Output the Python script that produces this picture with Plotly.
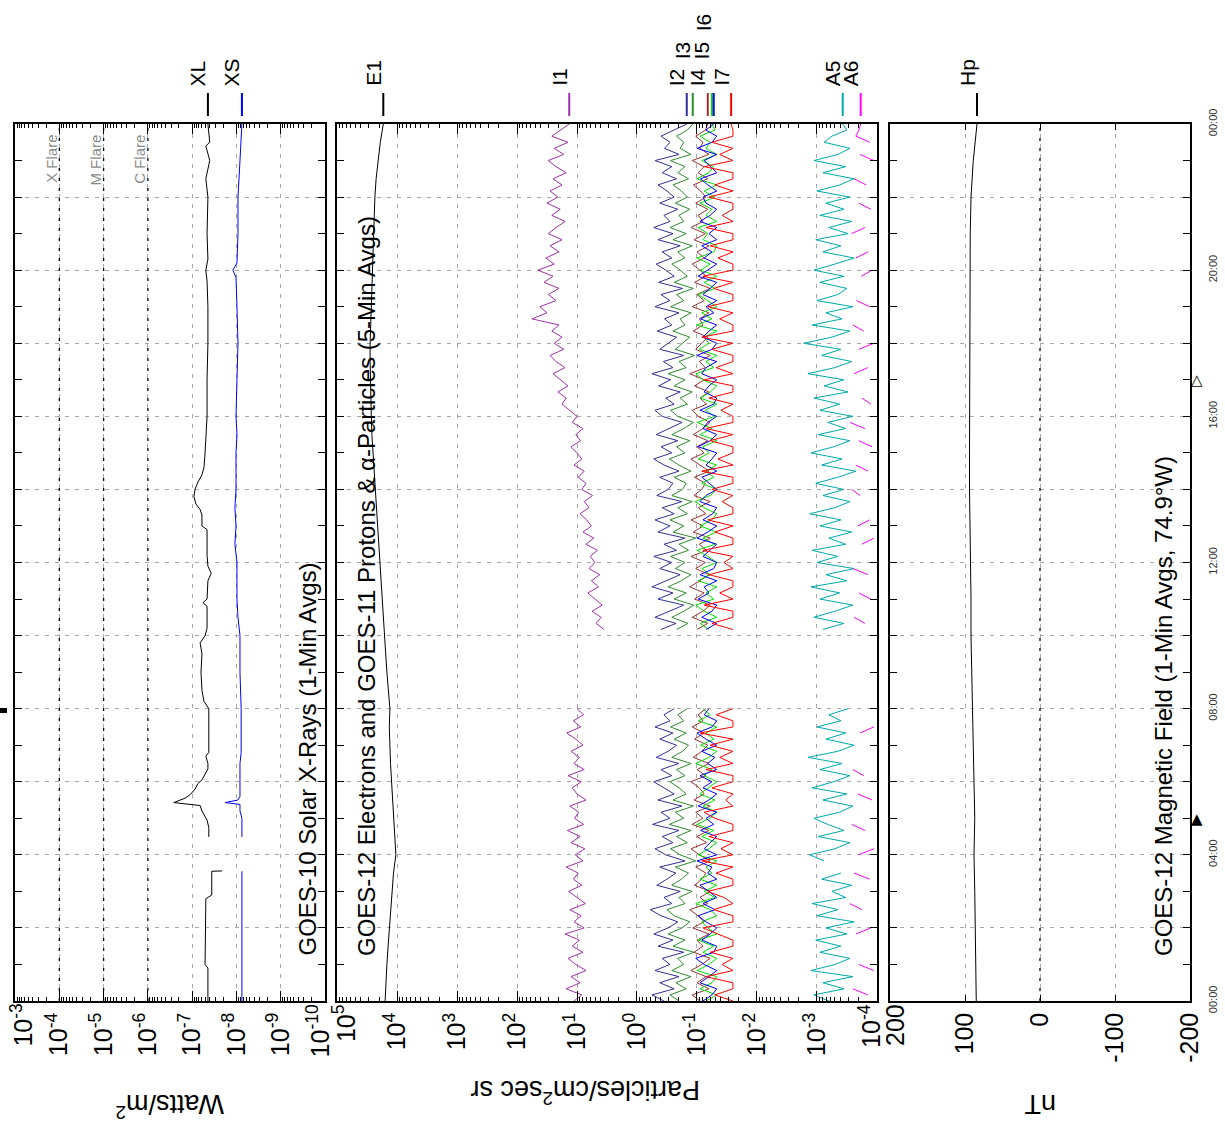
import numpy as np
import plotly.graph_objects as go

W, H = 1225, 1130
FONT = "Liberation Sans, Arial, Helvetica, sans-serif"

# ---------------- GOES-10 solar X-rays (W/m^2), hours UT ----------------
xl_hours = [0.0, 0.9, 1.0, 2.8, 2.9, 3.55, 3.56, 4.0, 4.49, 4.75, 4.95, 5.2, 5.35,
            5.43, 5.55, 5.65, 5.8, 5.95, 6.05, 6.2, 6.35, 6.5, 6.7, 6.8, 8.0, 8.2,
            8.5, 9.0, 9.5, 9.8, 10.0, 10.2, 10.8, 10.9, 11.0, 11.5, 11.7, 11.9, 12.2,
            12.9, 13.0, 13.3, 13.45, 13.6, 13.8, 14.0, 14.2, 14.4, 14.6, 15.0, 15.5,
            16.0, 17.0, 18.0, 19.0, 19.7, 20.0, 20.3, 21.0, 22.0, 22.5, 23.0, 23.4,
            23.5, 24.0]
xl_flux = [4.4e-8, 4.4e-8, 5.1e-8, 4.9e-8, 3.6e-8, 3.6e-8, 2.1e-8, None, 4.2e-8, 4.2e-8,
           4.6e-8, 6.0e-8, 6.6e-8, 2.6e-7, 1.45e-7, 1.1e-7, 8.6e-8, 7.4e-8, 6.0e-8, 5.1e-8,
           4.4e-8, 4.4e-8, 4.9e-8, 4.2e-8, 4.2e-8, 5.4e-8, 6.0e-8, 6.3e-8, 6.0e-8, 6.6e-8,
           5.1e-8, 4.6e-8, 4.6e-8, 5.7e-8, 4.6e-8, 4.4e-8, 3.7e-8, 4.4e-8, 4.6e-8, 4.6e-8,
           6.0e-8, 6.0e-8, 6.6e-8, 8.2e-8, 9.1e-8, 8.6e-8, 7.4e-8, 6.0e-8, 5.4e-8, 5.1e-8,
           4.9e-8, 4.6e-8, 4.6e-8, 4.4e-8, 4.4e-8, 4.6e-8, 4.9e-8, 4.4e-8, 4.6e-8, 4.4e-8,
           4.9e-8, 4.0e-8, 4.9e-8, 4.0e-8, 4.4e-8]
xs_hours = [0.0, 1.0, 2.0, 3.0, 3.55, 4.0, 4.49, 5.0, 5.2, 5.38, 5.43, 5.5, 5.6, 6.5,
            6.8, 8.0, 9.0, 10.0, 10.5, 11.0, 12.0, 12.5, 13.0, 13.5, 14.0, 15.0, 15.5,
            16.0, 17.0, 18.0, 19.0, 19.8, 20.0, 20.2, 21.0, 22.0, 23.0, 24.0]
xs_flux = [7.5e-9, 7.5e-9, 7.3e-9, 7.5e-9, 7.5e-9, None, 7.5e-9, 7.5e-9, 8.3e-9, 8.3e-9,
           1.8e-8, 9.2e-9, 8.3e-9, 8.3e-9, 7.8e-9, 7.8e-9, 8.3e-9, 8.3e-9, 9.2e-9, 9.7e-9,
           9.7e-9, 1.08e-8, 1.02e-8, 1.08e-8, 1.02e-8, 1.02e-8, 9.7e-9, 1.02e-8, 9.7e-9,
           9.2e-9, 9.7e-9, 1.02e-8, 1.2e-8, 9.7e-9, 9.2e-9, 9.2e-9, 8.3e-9, 7.5e-9]
xray_decades = [-3, -4, -5, -6, -7, -8, -9, -10]
flare_classes = ["X Flare", "M Flare", "C Flare"]
flare_levels = [-4, -5, -6]

# ---------------- GOES-12 electrons, 30-min samples (log10 flux) ----------------
e1_log10 = [4.20, 4.19, 4.17, 4.15, 4.13, 4.11, 4.09, 4.06, 4.02, 4.04, 4.06, 4.08,
            4.10, 4.11, 4.12, 4.13, 4.12, 4.15, 4.17, 4.19, 4.21, 4.23, 4.25, 4.27,
            4.29, 4.31, 4.33, 4.35, 4.37, 4.39, 4.40, 4.42, 4.43, 4.44, 4.45, 4.45,
            4.45, 4.44, 4.44, 4.43, 4.42, 4.41, 4.40, 4.38, 4.37, 4.35, 4.32, 4.28, 4.23]

# ---------------- GOES-11 protons / alphas, 10-min samples (log10 flux) ----------------
# segment a: 00:00-08:00, segment b: 10:10-24:00 (no data in between)
i1_a = [1.05, 0.92, 1.18, 0.95, 1.10, 0.85, 1.02, 1.15, 0.90, 1.08, 0.96, 1.20,
        0.88, 1.05, 0.93, 1.12, 0.86, 1.00, 1.14, 0.92, 1.06, 0.98, 1.18, 0.90,
        1.03, 0.87, 1.10, 0.95, 1.16, 0.89, 1.04, 0.97, 1.12, 0.85, 1.00, 1.08,
        0.93, 1.15, 0.88, 1.05, 0.96, 1.10, 0.90, 1.02, 1.17, 0.94, 1.06, 0.89,
        1.00]
i1_b = [0.55, 0.68, 0.60, 0.75, 0.58, 0.70, 0.82, 0.64, 0.76, 0.62, 0.80, 0.70,
        0.78, 0.66, 0.85, 0.72, 0.90, 0.76, 0.84, 0.95, 0.80, 0.88, 0.74, 0.92,
        0.85, 0.98, 0.88, 1.05, 0.92, 1.00, 1.10, 0.94, 1.02, 0.90, 1.08, 1.00,
        1.12, 1.25, 1.18, 1.32, 1.15, 1.28, 1.40, 1.20, 1.35, 1.45, 1.22, 1.38,
        1.25, 1.42, 1.30, 1.75, 1.50, 1.62, 1.35, 1.48, 1.30, 1.55, 1.40, 1.65,
        1.38, 1.52, 1.30, 1.45, 1.25, 1.48, 1.35, 1.20, 1.42, 1.28, 1.50, 1.32,
        1.45, 1.25, 1.40, 1.18, 1.35, 1.48, 1.22, 1.38, 1.15, 1.42, 1.28, 1.13]
i2_a = [-0.45, -0.25, -0.62, -0.38, -0.70, -0.30, -0.55, -0.42, -0.78, -0.35, -0.60, -0.28,
        -0.52, -0.68, -0.40, -0.22, -0.58, -0.45, -0.72, -0.33, -0.50, -0.65, -0.38, -0.80,
        -0.48, -0.30, -0.60, -0.42, -0.70, -0.26, -0.55, -0.40, -0.75, -0.35, -0.62, -0.45,
        -0.28, -0.58, -0.40, -0.70, -0.32, -0.52, -0.66, -0.38, -0.60, -0.30, -0.55, -0.45,
        -0.62]
i2_b = [-0.40, -0.65, -0.30, -0.55, -0.78, -0.35, -0.60, -0.25, -0.50, -0.72, -0.38, -0.58,
        -0.28, -0.66, -0.45, -0.80, -0.35, -0.55, -0.30, -0.62, -0.42, -0.75, -0.33, -0.52,
        -0.60, -0.38, -0.70, -0.45, -0.28, -0.58, -0.40, -0.68, -0.32, -0.55, -0.75, -0.42,
        -0.30, -0.62, -0.48, -0.72, -0.36, -0.56, -0.25, -0.60, -0.44, -0.78, -0.38, -0.52,
        -0.66, -0.34, -0.58, -0.46, -0.70, -0.30, -0.55, -0.40, -0.76, -0.36, -0.62, -0.48,
        -0.32, -0.58, -0.42, -0.72, -0.35, -0.60, -0.28, -0.55, -0.45, -0.68, -0.38, -0.62,
        -0.50, -0.35, -0.66, -0.42, -0.58, -0.30, -0.70, -0.46, -0.55, -0.40, -0.62, -0.83]
i3_a = [-0.70, -0.55, -0.82, -0.65, -0.90, -0.58, -0.78, -0.68, -0.95, -0.60, -0.80, -0.52,
        -0.75, -0.88, -0.62, -0.50, -0.80, -0.70, -0.92, -0.58, -0.74, -0.86, -0.64, -0.98,
        -0.72, -0.56, -0.84, -0.66, -0.90, -0.54, -0.78, -0.64, -0.94, -0.60, -0.82, -0.70,
        -0.55, -0.80, -0.66, -0.90, -0.58, -0.76, -0.86, -0.62, -0.82, -0.56, -0.78, -0.68,
        -0.84]
i3_b = [-0.66, -0.85, -0.58, -0.78, -0.95, -0.62, -0.82, -0.52, -0.74, -0.90, -0.64, -0.80,
        -0.56, -0.86, -0.70, -0.98, -0.60, -0.78, -0.55, -0.84, -0.68, -0.92, -0.58, -0.76,
        -0.82, -0.62, -0.90, -0.70, -0.54, -0.80, -0.66, -0.88, -0.58, -0.78, -0.94, -0.68,
        -0.56, -0.84, -0.72, -0.92, -0.62, -0.80, -0.52, -0.82, -0.70, -0.96, -0.64, -0.76,
        -0.88, -0.60, -0.80, -0.72, -0.90, -0.56, -0.78, -0.66, -0.94, -0.62, -0.84, -0.72,
        -0.58, -0.80, -0.68, -0.92, -0.60, -0.82, -0.55, -0.78, -0.70, -0.88, -0.64, -0.84,
        -0.74, -0.60, -0.86, -0.68, -0.80, -0.56, -0.90, -0.72, -0.78, -0.66, -0.84, -0.93]
i4_a = [-1.05, -0.92, -1.20, -1.00, -1.15, -0.90, -1.08, -1.22, -0.95, -1.10, -1.00, -1.20,
        -0.93, -1.12, -1.02, -0.88, -1.18, -1.05, -1.22, -0.96, -1.08, -1.15, -0.98, -1.22,
        -1.04, -0.90, -1.16, -1.00, -1.20, -0.92, -1.10, -0.98, -1.22, -0.95, -1.12, -1.04,
        -0.90, -1.15, -1.00, -1.20, -0.94, -1.08, -1.18, -0.96, -1.12, -0.92, -1.10, -1.02,
        -1.15]
i4_b = [-1.00, -1.18, -0.92, -1.10, -1.22, -0.96, -1.12, -0.88, -1.05, -1.20, -0.98, -1.14,
        -0.90, -1.16, -1.04, -1.22, -0.94, -1.10, -0.90, -1.15, -1.02, -1.22, -0.95, -1.08,
        -1.14, -0.96, -1.20, -1.04, -0.90, -1.12, -1.00, -1.18, -0.94, -1.10, -1.22, -1.02,
        -0.92, -1.16, -1.05, -1.20, -0.96, -1.12, -0.88, -1.14, -1.04, -1.22, -0.98, -1.08,
        -1.18, -0.94, -1.10, -1.04, -1.20, -0.92, -1.12, -1.00, -1.22, -0.96, -1.15, -1.05,
        -0.92, -1.12, -1.00, -1.20, -0.95, -1.14, -0.90, -1.10, -1.02, -1.18, -0.98, -1.15,
        -1.06, -0.94, -1.18, -1.02, -1.12, -0.92, -1.20, -1.05, -1.10, -0.98, -1.14, -1.18]
i5_a = [-1.15, -1.33, -1.05, -1.25, -1.33, -1.00, -1.20, -1.33, -1.10, -1.28, -1.02, -1.33,
        -1.18, -1.08, -1.33, -1.22, -0.98, -1.30, -1.12, -1.33, -1.05, -1.25, -1.15, -1.33,
        -1.02, -1.20, -1.33, -1.08, -1.28, -1.00, -1.22, -1.33, -1.10, -1.30, -1.05, -1.18,
        -1.33, -1.12, -1.25, -0.98, -1.20, -1.33, -1.06, -1.28, -1.15, -1.33, -1.02, -1.22,
        -1.10]
i5_b = [-1.20, -1.05, -1.33, -1.12, -0.98, -1.28, -1.15, -1.33, -1.02, -1.22, -1.08, -1.33,
        -1.18, -1.00, -1.30, -1.10, -1.33, -1.05, -1.25, -1.33, -1.12, -0.97, -1.22, -1.33,
        -1.08, -1.28, -1.15, -1.33, -1.02, -1.20, -1.10, -1.33, -1.05, -1.25, -1.00, -1.30,
        -1.14, -1.33, -1.06, -1.22, -1.33, -1.10, -0.98, -1.28, -1.15, -1.33, -1.04, -1.20,
        -1.12, -1.33, -1.00, -1.25, -1.08, -1.33, -1.18, -1.02, -1.30, -1.12, -1.33, -1.06,
        -1.22, -1.00, -1.28, -1.33, -1.10, -1.18, -1.02, -1.33, -1.15, -1.25, -1.05, -1.30,
        -1.12, -1.33, -1.00, -1.20, -1.28, -1.08, -1.33, -1.15, -1.22, -1.05, -1.30, -1.25]
i6_a = [-1.10, -1.25, -1.33, -1.05, -1.20, -1.33, -1.12, -0.98, -1.28, -1.33, -1.08, -1.22,
        -1.33, -1.15, -1.02, -1.30, -1.10, -1.33, -1.20, -1.05, -1.33, -1.18, -1.25, -1.00,
        -1.33, -1.12, -1.22, -1.33, -1.06, -1.28, -1.15, -1.33, -1.02, -1.20, -1.33, -1.10,
        -1.25, -1.05, -1.33, -1.18, -1.30, -1.08, -1.33, -1.15, -1.00, -1.25, -1.33, -1.12,
        -1.20]
i6_b = [-1.15, -1.33, -1.08, -1.25, -1.33, -1.02, -1.20, -1.12, -1.33, -1.05, -1.28, -1.33,
        -1.10, -1.22, -1.33, -1.00, -1.18, -1.33, -1.10, -1.26, -1.33, -1.05, -1.15, -1.33,
        -1.20, -1.08, -1.33, -1.15, -1.25, -1.33, -1.02, -1.22, -1.33, -1.10, -1.18, -1.33,
        -1.05, -1.28, -1.33, -1.12, -1.20, -1.33, -1.08, -1.15, -1.33, -1.00, -1.25, -1.33,
        -1.10, -1.20, -1.33, -1.06, -1.28, -1.15, -1.33, -1.10, -1.22, -1.33, -1.02, -1.18,
        -1.33, -1.12, -1.25, -1.08, -1.33, -1.20, -1.33, -1.05, -1.22, -1.33, -1.15, -1.10,
        -1.33, -1.18, -1.06, -1.33, -1.22, -1.12, -1.33, -1.00, -1.25, -1.33, -1.15, -1.28]
i7_a = [-1.60, -1.30, -1.60, -1.60, -1.15, -1.60, -1.42, -1.60, -1.22, -1.60, -1.60, -1.35,
        -1.10, -1.60, -1.60, -1.28, -1.60, -1.45, -1.18, -1.60, -1.60, -1.32, -1.60, -1.08,
        -1.60, -1.40, -1.60, -1.20, -1.60, -1.60, -1.30, -1.12, -1.60, -1.48, -1.60, -1.25,
        -1.60, -1.60, -1.15, -1.60, -1.38, -1.60, -1.22, -1.60, -1.05, -1.60, -1.60, -1.32,
        -1.60]
i7_b = [-1.60, -1.25, -1.60, -1.60, -1.12, -1.60, -1.38, -1.60, -1.60, -1.20, -1.60, -1.45,
        -1.60, -1.10, -1.60, -1.60, -1.30, -1.60, -1.18, -1.60, -1.60, -1.42, -1.60, -1.25,
        -1.60, -1.60, -1.08, -1.60, -1.35, -1.60, -1.60, -1.22, -1.60, -1.15, -1.60, -1.60,
        -1.40, -1.60, -1.20, -1.60, -1.60, -1.12, -1.60, -1.32, -1.60, -1.60, -1.25, -1.60,
        -1.08, -1.60, -1.60, -1.38, -1.60, -1.18, -1.60, -1.60, -1.28, -1.60, -1.10, -1.60,
        -1.60, -1.35, -1.60, -1.22, -1.60, -1.60, -1.15, -1.60, -1.42, -1.60, -1.60, -1.20,
        -1.60, -1.30, -1.60, -1.60, -1.12, -1.60, -1.38, -1.60, -1.25, -1.60, -1.60, -1.57]
a5_a = [-3.20, -2.95, -3.45, -3.10, -3.60, -2.90, -3.30, -3.55, -3.05, -3.40, -2.98, -3.50,
        -3.15, -3.62, -3.00, -3.35, -2.92, -3.48, -3.25, -3.58, -3.08, -3.40, None, -3.12,
        -2.88, -3.30, -3.55, -3.02, -3.45, -3.18, -2.95, -3.38, -3.60, -3.10, -3.50, -2.92,
        -3.28, -3.55, -3.05, -3.42, -2.85, -3.35, -3.62, -3.15, -3.48, -3.00, -3.40, -3.20,
        -3.52]
a5_b = [-3.10, -3.45, -2.95, -3.30, -3.60, -3.05, -3.38, -2.90, -3.50, -3.15, -3.62, -3.00,
        -3.35, -2.92, -3.48, -3.20, -3.58, -3.05, -3.40, -2.88, -3.30, -3.55, -3.10, -3.45,
        -2.98, -3.35, -3.65, -3.08, -3.42, -2.90, -3.28, -3.55, -3.02, -3.48, -3.18, -3.60,
        -3.05, -3.38, -2.95, -3.52, -3.12, -3.45, -2.85, -3.30, -3.58, -3.08, -3.40, -2.78,
        -3.25, -3.55, -2.92, -3.42, -3.15, -3.60, -3.00, -3.35, -3.50, -3.05, -3.45, -2.95,
        -3.30, -3.62, -3.10, -3.40, -2.98, -3.52, -3.20, -3.58, -3.05, -3.45, -3.15, -3.55,
        -3.00, -3.38, -3.62, -3.10, -3.48, -2.95, -3.35, -3.55, -3.12, -3.25, -3.50, -3.43]
a6_a = [None, -3.85, -3.60, None, None, -3.95, -3.70, None, -3.80, None, None, -3.65,
        -3.90, None, None, -3.75, -3.55, None, None, None, -3.88, -3.62, None, None,
        -3.70, -3.95, None, None, -3.80, -3.58, None, None, None, -3.92, -3.68, None,
        None, -3.78, -3.60, None, None, -3.85, None, None, -3.72, -3.95, None, None,
        -3.65]
a6_b = [None, -3.80, -3.62, None, None, -3.90, -3.70, None, None, -3.85, -3.60, None,
        None, None, -3.75, -3.95, None, -3.68, -3.88, None, None, None, -3.72, -3.58,
        None, None, -3.85, -3.65, None, None, -3.92, -3.70, None, -3.80, -3.55, None,
        None, -3.90, -3.75, None, None, None, -3.62, -3.85, None, None, -3.70, -3.95,
        None, -3.78, -3.60, None, None, -3.88, -3.66, None, None, None, -3.74, -3.92,
        None, -3.65, -3.85, None, None, -3.58, -3.80, None, None, -3.90, -3.70, None,
        None, -3.82, -3.62, None, None, -3.95, -3.72, None, -3.88, -3.65, -3.70, -3.73]
particle_decades = [5, 4, 3, 2, 1, 0, -1, -2, -3, -4]

# ---------------- GOES-12 magnetometer Hp (nT), hourly ----------------
hp_nt = [85, 86, 87, 87, 88, 87, 88, 89, 90, 91, 92, 92, 93, 93, 94, 94, 94, 93, 93,
         94, 94, 93, 92, 89, 84]
mag_ticks = [200, 100, 0, -100, -200]

# satellite local midnight / local noon (UT hours) at 74.9 W
local_midnight_ut = 4.99
local_noon_ut = 16.99

time_ticks = list(range(0, 25, 2))
time_labels = ["00:00", "", "04:00", "", "08:00", "", "12:00", "", "16:00", "", "20:00", "", "00:00"]

# ---------------- time grids ----------------
seg_a_hours = np.linspace(0.0, 8.0, 49)
seg_b_hours = np.linspace(10.0 + 1.0 / 6.0, 24.0, 84)
e1_hours = np.linspace(0.0, 24.0, 49)
hp_hours = np.linspace(0.0, 24.0, 25)

for seg in (i1_a, i2_a, i3_a, i4_a, i5_a, i6_a, i7_a, a5_a, a6_a):
    assert len(seg) == len(seg_a_hours)
for seg in (i1_b, i2_b, i3_b, i4_b, i5_b, i6_b, i7_b, a5_b, a6_b):
    assert len(seg) == len(seg_b_hours)
assert len(xl_hours) == len(xl_flux) and len(xs_hours) == len(xs_flux)
assert len(e1_log10) == len(e1_hours) and len(hp_nt) == len(hp_hours)


def from_log(vals):
    return [None if v is None else 10.0 ** v for v in vals]


def joined(a, b):
    """Two sampled segments separated by a data gap."""
    x = from_log(a) + [None] + from_log(b)
    y = list(seg_a_hours) + [9.0] + list(seg_b_hours)
    return x, y


# panel geometry (pixels)
def pxx(px):
    return px / W


def pxy(py):
    return 1.0 - py / H


PANEL_TOP, PANEL_BOT = 124, 1001
XR_DOM = [pxx(15), pxx(325)]
PT_DOM = [pxx(337), pxx(877)]
MG_DOM = [pxx(890), pxx(1190)]
Y_DOM = [pxy(PANEL_BOT), pxy(PANEL_TOP)]

fig = go.Figure()


def line(x, y, color, xa, ya, width=1.0):
    fig.add_trace(go.Scatter(x=x, y=y, mode="lines", xaxis=xa, yaxis=ya,
                             line=dict(color=color, width=width), connectgaps=False,
                             showlegend=False, hoverinfo="skip"))


# X-rays
line(xl_flux, xl_hours, "black", "x", "y")
line(xs_flux, xs_hours, "#0000ff", "x", "y")

# particles
line(from_log(e1_log10), list(e1_hours), "black", "x2", "y2")
channels = [
    ("I1", i1_a, i1_b, "#a030a8", 1),
    ("I2", i2_a, i2_b, "#30309a", 1),
    ("I3", i3_a, i3_b, "#2e8b2e", 2),
    ("I4", i4_a, i4_b, "#9a3030", 1),
    ("I5", i5_a, i5_b, "#00e000", 2),
    ("I6", i6_a, i6_b, "#0000ff", 3),
    ("I7", i7_a, i7_b, "#ff0000", 1),
    ("A5", a5_a, a5_b, "#00aaaa", 1),
    ("A6", a6_a, a6_b, "#ff00ff", 1),
]
for name, a, b, color, _row in channels:
    x, y = joined(a, b)
    line(x, y, color, "x2", "y2")

# magnetic field
line(hp_nt, list(hp_hours), "black", "x3", "y3")

# ---------------- axes ----------------
AX_LINE = dict(showline=True, linecolor="black", linewidth=1.5, mirror="ticks",
               zeroline=False, automargin=False, fixedrange=True)
GRID = dict(showgrid=True, gridcolor="#a8a8a8", gridwidth=1, griddash="4px,6px")
TICK_FONT = dict(family=FONT, size=25, color="black")

ytime = dict(range=[0, 24], domain=Y_DOM, tickmode="array", tickvals=time_ticks,
             ticktext=time_labels, ticks="inside", ticklen=7, tickwidth=1, tickcolor="black",
             minor=dict(tickmode="linear", tick0=0, dtick=1, ticks="inside", ticklen=7,
                        tickcolor="black", showgrid=False),
             **AX_LINE, **GRID)

EDGE = 0.002  # keeps the end decades inside the range


def decade_label(p):
    return "10<sup>%d</sup>" % p


def log_axis(decades, domain, anchor):
    minor_vals = [m * 10.0 ** p for p in decades for m in range(2, 10)]
    # the two end labels are drawn separately, nudged inward
    text = [decade_label(p) if 0 < i < len(decades) - 1 else ""
            for i, p in enumerate(decades)]
    return dict(type="log", range=[decades[0] + EDGE, decades[-1] - EDGE], domain=domain,
                anchor=anchor, tickmode="array", tickvals=[10.0 ** p for p in decades],
                ticktext=text, tickangle=-90, ticks="inside", ticklen=10, tickwidth=1,
                tickcolor="black", tickfont=TICK_FONT, ticklabeloverflow="allow",
                minor=dict(tickmode="array", tickvals=minor_vals, ticks="inside", ticklen=4,
                           tickcolor="black", showgrid=False),
                **AX_LINE, **GRID)


fig.update_layout(
    width=W, height=H, autosize=False,
    margin=dict(l=0, r=0, t=0, b=0, pad=0),
    paper_bgcolor="white", plot_bgcolor="white",
    font=dict(family=FONT, color="black"),
    xaxis=log_axis(xray_decades, XR_DOM, "y"),
    xaxis2=log_axis(particle_decades, PT_DOM, "y2"),
    xaxis3=dict(range=[200, -200], domain=MG_DOM, anchor="y3", tickmode="array",
                tickvals=mag_ticks, ticktext=[""] + [str(v) for v in mag_ticks[1:]],
                tickangle=-90, ticks="inside", ticklen=6, tickwidth=1, tickcolor="black",
                ticklabeloverflow="allow", tickfont=TICK_FONT, **AX_LINE, **GRID),
    yaxis=dict(anchor="x", showticklabels=False, **ytime),
    yaxis2=dict(anchor="x2", showticklabels=False, **ytime),
    yaxis3=dict(anchor="x3", side="right", showticklabels=True, tickangle=-90,
                ticklabelstandoff=12, ticklabeloverflow="allow",
                tickfont=dict(family=FONT, size=11, color="#333333"), **ytime),
)

shapes = []
annotations = []

# end-of-axis tick labels, nudged inward so neighbouring panels' labels do not collide
for xref, val, text, shift in [("x", xray_decades[0], decade_label(xray_decades[0]), 6),
                               ("x", xray_decades[-1], decade_label(xray_decades[-1]), -7),
                               ("x2", particle_decades[0], decade_label(particle_decades[0]), 7),
                               ("x2", particle_decades[-1], decade_label(particle_decades[-1]), -7),
                               ("x3", mag_ticks[0], str(mag_ticks[0]), 5)]:
    annotations.append(dict(text=text, xref=xref, yref="paper", x=val, y=pxy(1002),
                            xanchor="center", yanchor="top", textangle=-90, xshift=shift,
                            showarrow=False, font=TICK_FONT))

# flare class thresholds (shape coordinates are data values on log axes)
for lvl, label in zip(flare_levels, flare_classes):
    shapes.append(dict(type="line", xref="x", yref="y", x0=10.0 ** lvl, x1=10.0 ** lvl,
                       y0=0, y1=24, line=dict(color="black", width=1.3, dash="3px,7px"),
                       layer="above"))
    annotations.append(dict(text=label, xref="x", yref="paper", x=lvl, y=pxy(133),
                            xanchor="right", yanchor="top", textangle=-90, xshift=2,
                            showarrow=False, font=dict(family=FONT, size=15, color="#8c8c8c")))
# zero field line
shapes.append(dict(type="line", xref="x3", yref="y3", x0=0, x1=0, y0=0, y1=24,
                   line=dict(color="black", width=1.3, dash="3px,7px"), layer="above"))

# series labels above each panel, placed at the final value of each series
LEG_Y0, LEG_Y1 = pxy(116), pxy(93)
ROW_BOTTOM = {1: pxy(88), 2: pxy(61), 3: pxy(33)}


def series_label(name, xref, value, color, row=1, log=False):
    ann_x = np.log10(value) if log else value
    shapes.append(dict(type="line", xref=xref, yref="paper", x0=value, x1=value,
                       y0=LEG_Y0, y1=LEG_Y1, line=dict(color=color, width=2)))
    annotations.append(dict(text=name, xref=xref, yref="paper", x=ann_x, y=ROW_BOTTOM[row],
                            xanchor="right", yanchor="bottom", textangle=-90, xshift=4,
                            showarrow=False, font=dict(family=FONT, size=21, color="black")))


series_label("XL", "x", xl_flux[-1], "black", log=True)
series_label("XS", "x", xs_flux[-1], "#0000ff", log=True)
series_label("E1", "x2", 10.0 ** e1_log10[-1], "black", log=True)
for name, a, b, color, row in channels:
    series_label(name, "x2", 10.0 ** b[-1], color, row, log=True)
series_label("Hp", "x3", hp_nt[-1], "black")

# panel titles
TITLE_FONT = dict(family=FONT, size=24, color="black")
for text, xc in [("GOES-10 Solar X-Rays (1-Min Avgs)", 307),
                 ("GOES-12 Electrons and GOES-11 Protons &amp; \u03b1-Particles (5-Min Avgs)", 366),
                 ("GOES-12 Magnetic Field (1-Min Avgs, 74.9\u00b0W)", 1163)]:
    annotations.append(dict(text=text, xref="paper", yref="paper", x=pxx(xc), y=pxy(958),
                            xanchor="center", yanchor="bottom", textangle=-90,
                            showarrow=False, font=TITLE_FONT))

# axis titles (upside down)
AXT_FONT = dict(family=FONT, size=27, color="black")
for text, xc, yc in [("Watts/m<sup>2</sup>", 170, 1106),
                     ("Particles/cm<sup>2</sup>sec sr", 585, 1092),
                     ("nT", 1040, 1104)]:
    annotations.append(dict(text=text, xref="paper", yref="paper", x=pxx(xc), y=pxy(yc),
                            xanchor="center", yanchor="middle", textangle=180,
                            showarrow=False, font=AXT_FONT))

# local midnight / noon markers beside the time axis
for sym, hour in [("\u25b2", local_midnight_ut), ("\u25b3", local_noon_ut)]:
    annotations.append(dict(text=sym, xref="paper", yref="y3", x=pxx(1197), y=hour,
                            xanchor="center", yanchor="middle", showarrow=False,
                            font=dict(family="DejaVu Sans", size=15, color="black")))

# small mark at the left edge
shapes.append(dict(type="rect", xref="paper", yref="paper", x0=0, x1=pxx(7),
                   y0=pxy(713), y1=pxy(708), fillcolor="black", line=dict(width=0)))

fig.update_layout(shapes=shapes, annotations=annotations)
fig.write_html("out.html")
